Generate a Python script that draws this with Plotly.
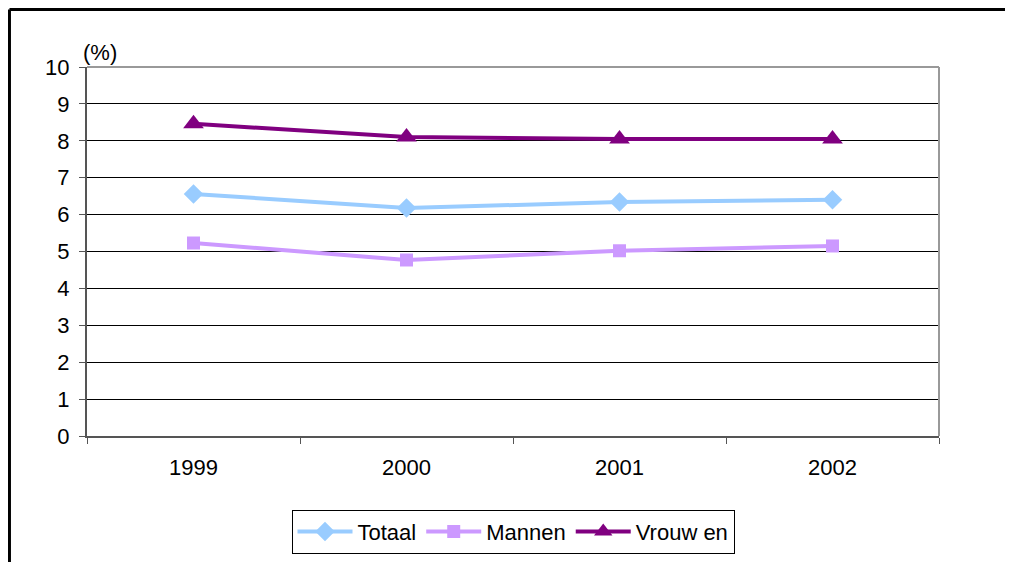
import plotly.graph_objects as go

years = ['1999', '2000', '2001', '2002']
totaal = [6.56, 6.18, 6.34, 6.40]
mannen = [5.23, 4.77, 5.02, 5.15]
vrouwen = [8.46, 8.10, 8.05, 8.05]
y_ticks = list(range(0, 11))

font = 'Liberation Sans, Arial, sans-serif'

fig = go.Figure()

fig.add_trace(go.Scatter(
    x=years, y=totaal, name='Totaal', mode='lines+markers',
    line=dict(color='#99CCFF', width=4),
    marker=dict(symbol='diamond', size=15, color='#99CCFF')
))
fig.add_trace(go.Scatter(
    x=years, y=mannen, name='Mannen', mode='lines+markers',
    line=dict(color='#CC99FF', width=4),
    marker=dict(symbol='square', size=13, color='#CC99FF')
))
fig.add_trace(go.Scatter(
    x=years, y=vrouwen, name='Vrouw en', mode='lines+markers',
    line=dict(color='#800080', width=4),
    marker=dict(symbol='triangle-up', size=18, color='#800080')
))

# page body adds 8px, so margins are shifted by that amount
fig.update_layout(
    width=1013, height=562,
    margin=dict(l=79, r=82, t=59, b=134),
    paper_bgcolor='white', plot_bgcolor='white',
    font=dict(family=font, size=22, color='black'),
    showlegend=True,
    legend=dict(
        orientation='h', x=0.5, xanchor='center', y=-0.2, yanchor='top',
        bordercolor='black', borderwidth=1, font=dict(size=22),
        itemwidth=55
    ),
    xaxis=dict(
        type='category', range=[-0.5, 3.5], showgrid=False,
        showline=True, linecolor='#555555', linewidth=2,
        ticks='outside', tickson='boundaries', ticklen=6, tickcolor='#555555',
        ticklabelstandoff=11, zeroline=False
    ),
    yaxis=dict(
        range=[0, 10], tickvals=y_ticks, showgrid=True, gridcolor='black', gridwidth=1,
        showline=True, linecolor='#555555', linewidth=2,
        ticks='outside', ticklen=6, tickcolor='#555555',
        ticklabelstandoff=5, zeroline=False
    ),
    annotations=[dict(
        text='(%)', xref='paper', yref='paper', x=0.015, y=1.0,
        xanchor='center', yanchor='bottom',
        showarrow=False, font=dict(size=22)
    )],
    shapes=[
        # grey plot border top and right
        dict(type='line', xref='paper', yref='paper', x0=0, x1=1, y0=1, y1=1,
             line=dict(color='#999999', width=2)),
        dict(type='line', xref='paper', yref='paper', x0=1, x1=1, y0=0, y1=1,
             line=dict(color='#999999', width=2)),
        # outer frame
        dict(type='line', xref='paper', yref='paper', x0=-0.091, x1=-0.091, y0=-0.4, y1=1.156,
             line=dict(color='black', width=3)),
        dict(type='line', xref='paper', yref='paper', x0=-0.091, x1=1.1, y0=1.156, y1=1.156,
             line=dict(color='black', width=3)),
    ]
)

fig.write_html('out.html')
